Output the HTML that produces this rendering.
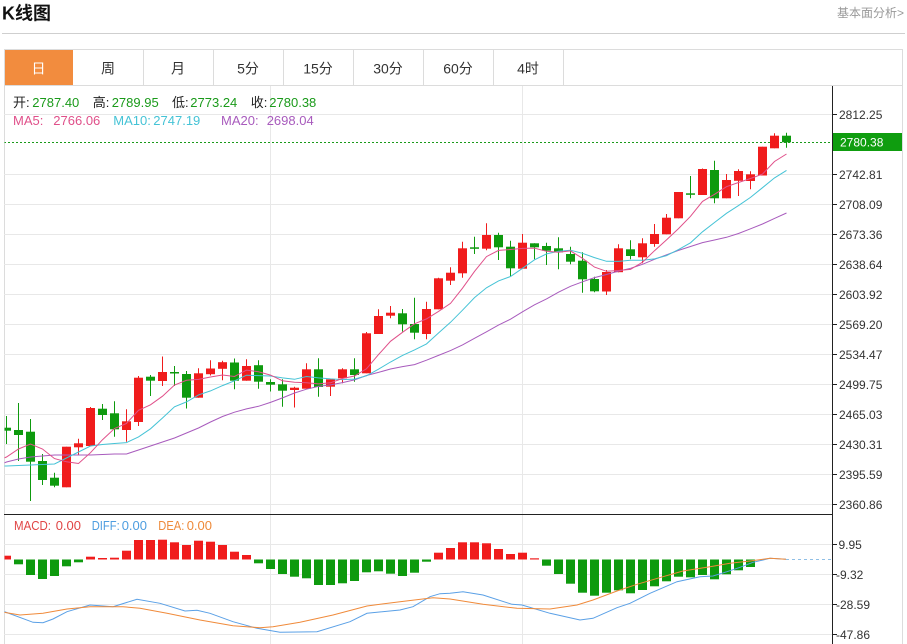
<!DOCTYPE html>
<html><head><meta charset="utf-8"><style>
html,body{margin:0;padding:0;background:#fff;}
svg{display:block;font-family:"Liberation Sans","Noto Sans CJK SC",sans-serif;}
</style></head><body>
<svg width="907" height="644" viewBox="0 0 907 644" xmlns="http://www.w3.org/2000/svg">
<defs>
<clipPath id="cm"><rect x="4.5" y="86" width="827.5" height="428"/></clipPath>
<clipPath id="cd"><rect x="4.5" y="515" width="827.5" height="129"/></clipPath>
</defs>
<rect width="907" height="644" fill="#fff"/>
<!-- header -->
<text x="2" y="19.5" font-size="18" font-weight="bold" fill="#111">K线图</text>
<text x="904" y="17" font-size="12" fill="#999" text-anchor="end">基本面分析&gt;</text>
<line x1="2" y1="33.5" x2="905" y2="33.5" stroke="#cfcfcf"/>
<!-- tabs -->
<rect x="4" y="49.5" width="69" height="35.5" fill="#f28c3e"/>
<line x1="4" y1="49.5" x2="903" y2="49.5" stroke="#dcdcdc"/>
<line x1="4" y1="85.5" x2="903" y2="85.5" stroke="#dcdcdc"/>
<g stroke="#dcdcdc">
<line x1="143.5" y1="50" x2="143.5" y2="85"/><line x1="213.5" y1="50" x2="213.5" y2="85"/>
<line x1="283.5" y1="50" x2="283.5" y2="85"/><line x1="353.5" y1="50" x2="353.5" y2="85"/>
<line x1="423.5" y1="50" x2="423.5" y2="85"/><line x1="493.5" y1="50" x2="493.5" y2="85"/>
<line x1="563.5" y1="50" x2="563.5" y2="85"/>
<line x1="4.5" y1="49.5" x2="4.5" y2="644"/><line x1="902.5" y1="49.5" x2="902.5" y2="644"/>
</g>
<g font-size="14" text-anchor="middle" fill="#333">
<text x="38.5" y="73.5" fill="#fff">日</text>
<text x="108" y="73.5">周</text><text x="178" y="73.5">月</text><text x="248" y="73.5">5分</text>
<text x="318" y="73.5">15分</text><text x="388" y="73.5">30分</text><text x="458" y="73.5">60分</text><text x="528" y="73.5">4时</text>
</g>
<!-- grid -->
<g stroke="#e8e8e8">
<line x1="270.5" y1="86" x2="270.5" y2="644"/><line x1="522.5" y1="86" x2="522.5" y2="644"/>
<line x1="4" y1="114.5" x2="832" y2="114.5"/><line x1="4" y1="174.5" x2="832" y2="174.5"/>
<line x1="4" y1="204.5" x2="832" y2="204.5"/><line x1="4" y1="234.5" x2="832" y2="234.5"/>
<line x1="4" y1="264.5" x2="832" y2="264.5"/><line x1="4" y1="294.5" x2="832" y2="294.5"/>
<line x1="4" y1="324.5" x2="832" y2="324.5"/><line x1="4" y1="354.5" x2="832" y2="354.5"/>
<line x1="4" y1="384.5" x2="832" y2="384.5"/><line x1="4" y1="414.5" x2="832" y2="414.5"/>
<line x1="4" y1="444.5" x2="832" y2="444.5"/><line x1="4" y1="474.5" x2="832" y2="474.5"/>
<line x1="4" y1="504.5" x2="832" y2="504.5"/>
<line x1="4" y1="544.5" x2="832" y2="544.5"/><line x1="4" y1="574.5" x2="832" y2="574.5"/>
<line x1="4" y1="604.5" x2="832" y2="604.5"/><line x1="4" y1="634.5" x2="832" y2="634.5"/>
</g>
<!-- legend -->
<g font-size="13">
<text x="13" y="107" fill="#222">开:</text><text x="32.3" y="107" fill="#1a9a1a">2787.40</text>
<text x="92.7" y="107" fill="#222">高:</text><text x="111.7" y="107" fill="#1a9a1a">2789.95</text>
<text x="172" y="107" fill="#222">低:</text><text x="190.3" y="107" fill="#1a9a1a">2773.24</text>
<text x="250.7" y="107" fill="#222">收:</text><text x="269.3" y="107" fill="#1a9a1a">2780.38</text>
<text x="13" y="125" fill="#e0508a">MA5:</text><text x="53.3" y="125" fill="#e0508a">2766.06</text>
<text x="113.3" y="125" fill="#45c3d6">MA10:</text><text x="153.3" y="125" fill="#45c3d6">2747.19</text>
<text x="221" y="125" fill="#a85bbd">MA20:</text><text x="266.7" y="125" fill="#a85bbd">2698.04</text>
<text x="14" y="530" fill="#e04545" textLength="37" lengthAdjust="spacingAndGlyphs">MACD:</text><text x="55.7" y="530" fill="#e04545">0.00</text>
<text x="91.7" y="530" fill="#4d9de0" textLength="28" lengthAdjust="spacingAndGlyphs">DIFF:</text><text x="121.7" y="530" fill="#4d9de0">0.00</text>
<text x="158.3" y="530" fill="#ee8a3a" textLength="26" lengthAdjust="spacingAndGlyphs">DEA:</text><text x="186.7" y="530" fill="#ee8a3a">0.00</text>
</g>
<!-- candles -->
<g clip-path="url(#cm)">
<line x1="4" y1="142.5" x2="832" y2="142.5" stroke="#1a9a1a" stroke-dasharray="2,2"/>
<path fill="none" stroke="#0e9a0e" stroke-width="1" d="M6.5 416V444M18.5 403V461M30.5 419V501M42.5 454V485M54.5 472.7V487.3M102.5 404V420M114.5 401.3V436.7M150.5 375V396M174.5 366V386M186.5 371V408.5M234.5 358.5V389.3M258.5 360.3V388.7M270.5 379.3V391.5M282.5 379.3V406.7M318.5 358.3V396.7M354.5 358.3V381.7M402.5 309V331.5M414.5 297.7V339.3M474.5 236.7V254M498.5 232.7V260M510.5 240.7V276M534.5 243.3V259.3M546.5 242.7V265M558.5 237.3V269.3M570.5 246.7V264.3M582.5 252.3V292.7M594.5 276.7V292.3M630.5 240.3V259.3M690.5 176V198.3M714.5 160.7V203.3M786.5 132.7V147.7"/>
<g fill="#0e9a0e">
<rect x="2" y="427.7" width="9" height="3"/><rect x="14" y="430" width="9" height="5"/><rect x="26" y="431.7" width="9" height="30"/>
<rect x="38" y="461" width="9" height="19"/><rect x="50" y="477.7" width="9" height="8"/><rect x="98" y="408.7" width="9" height="6.3"/>
<rect x="110" y="413.3" width="9" height="16"/><rect x="146" y="376.7" width="9" height="4"/><rect x="170" y="372" width="9" height="1.5"/>
<rect x="182" y="374" width="9" height="23.7"/><rect x="230" y="362.5" width="9" height="18.2"/><rect x="254" y="365.2" width="9" height="16.5"/>
<rect x="266" y="382" width="9" height="2.7"/><rect x="278" y="384.3" width="9" height="6.4"/><rect x="314" y="369.3" width="9" height="17.7"/>
<rect x="350" y="369.3" width="9" height="5.7"/><rect x="398" y="313.3" width="9" height="11"/><rect x="410" y="324" width="9" height="8.7"/>
<rect x="470" y="247.3" width="9" height="1.5"/><rect x="494" y="235" width="9" height="12.3"/><rect x="506" y="246.7" width="9" height="21.6"/>
<rect x="530" y="243.3" width="9" height="4"/><rect x="542" y="246" width="9" height="4.7"/><rect x="554" y="248.3" width="9" height="4"/>
<rect x="566" y="254" width="9" height="7.7"/><rect x="578" y="260.7" width="9" height="18.6"/><rect x="590" y="279" width="9" height="12.3"/>
<rect x="626" y="249.3" width="9" height="6.7"/><rect x="686" y="193.3" width="9" height="1.5"/><rect x="710" y="170" width="9" height="28.3"/>
<rect x="782" y="135.7" width="9" height="6.6"/>
</g>
<path fill="none" stroke="#f01c1c" stroke-width="1" d="M66.5 446.7V487.3M78.5 438.7V455M90.5 407V446M126.5 409.3V441.7M138.5 376V426M162.5 356.5V386M198.5 368.3V397.7M210.5 360.3V375.5M222.5 360.8V380.3M246.5 359.2V380.7M294.5 386.7V407.5M306.5 363.3V388.7M330.5 379.3V396M342.5 368.3V383.3M366.5 332V373.3M378.5 309.3V334M390.5 306V318.3M426.5 301.7V339.3M438.5 277.7V309.3M450.5 267.3V285M462.5 241.7V277.7M486.5 223.3V250.3M522.5 234V268.7M606.5 270V295M618.5 244.2V272.2M642.5 238.3V263.3M654.5 224V246.7M666.5 214V234.3M678.5 192V218.3M702.5 168.5V195M726.5 174V198.3M738.5 169.2V196M750.5 171.3V189.3M762.5 146.7V175.5M774.5 133.3V148.3"/>
<g fill="#f01c1c">
<rect x="62" y="446.7" width="9" height="40.6"/><rect x="74" y="443.3" width="9" height="4"/><rect x="86" y="408" width="9" height="38"/>
<rect x="122" y="421.3" width="9" height="8.7"/><rect x="134" y="377.7" width="9" height="44.3"/><rect x="158" y="372" width="9" height="9"/>
<rect x="194" y="373.3" width="9" height="24.4"/><rect x="206" y="368.5" width="9" height="5.7"/><rect x="218" y="362.2" width="9" height="6.6"/>
<rect x="242" y="366" width="9" height="14.7"/><rect x="290" y="387.7" width="9" height="2.3"/><rect x="302" y="369.3" width="9" height="19.4"/>
<rect x="326" y="379.3" width="9" height="7.4"/><rect x="338" y="369.3" width="9" height="9"/><rect x="362" y="333.3" width="9" height="40"/>
<rect x="374" y="316" width="9" height="18"/><rect x="386" y="312.7" width="9" height="3"/><rect x="422" y="309" width="9" height="25"/>
<rect x="434" y="278.3" width="9" height="31"/><rect x="446" y="272.7" width="9" height="8"/><rect x="458" y="248.3" width="9" height="25"/>
<rect x="482" y="235" width="9" height="13.7"/><rect x="518" y="242.7" width="9" height="26"/><rect x="602" y="272" width="9" height="19.5"/>
<rect x="614" y="248.3" width="9" height="23.9"/><rect x="638" y="243.3" width="9" height="14"/><rect x="650" y="234" width="9" height="10"/>
<rect x="662" y="217.7" width="9" height="16.6"/><rect x="674" y="192" width="9" height="26.3"/><rect x="698" y="169" width="9" height="26"/>
<rect x="722" y="180" width="9" height="18.3"/><rect x="734" y="171" width="9" height="9.8"/><rect x="746" y="174.3" width="9" height="6.7"/>
<rect x="758" y="146.7" width="9" height="28.8"/><rect x="770" y="135.7" width="9" height="12.6"/>
</g>
<!-- MA lines -->
<polyline fill="none" stroke="#a85bbd" stroke-width="1" points="4,463 6.5,462 18.5,459 30.5,457 42.5,456 54.5,455 66.5,455 78.5,455 90.5,455 102.5,454.5 114.5,454 126.5,454 138.5,450 150.5,446 162.5,442 174.5,438 186.5,433 198.5,428 210.5,422 222.5,416.5 234.5,412.2 246.5,408.9 258.5,406.3 270.5,402.4 282.5,397.9 294.5,393 306.5,389.2 318.5,386.4 330.5,384.9 342.5,382.6 354.5,379.9 366.5,375.5 378.5,372.4 390.5,369 402.5,366.6 414.5,364.6 426.5,360.2 438.5,355.4 450.5,350.6 462.5,344.9 474.5,338.3 486.5,331.8 498.5,325.1 510.5,319.2 522.5,311.8 534.5,304.8 546.5,298.9 558.5,292.2 570.5,286.3 582.5,281.8 594.5,277.6 606.5,274.5 618.5,271.1 630.5,268.3 642.5,264.3 654.5,259.3 666.5,254.8 678.5,250.4 690.5,246.5 702.5,242.6 714.5,240 726.5,237.3 738.5,233.5 750.5,228.8 762.5,224 774.5,218.4 786.5,213"/>
<polyline fill="none" stroke="#45c3d6" stroke-width="1" points="4,466 6.5,466 18.5,465.5 30.5,465 42.5,464.5 54.5,464 66.5,458 78.5,452 90.5,446 102.5,444.5 114.5,443.5 126.5,442.6 138.5,436.9 150.5,428.8 162.5,418 174.5,406.8 186.5,401.9 198.5,394.9 210.5,390.9 222.5,385.6 234.5,380.8 246.5,375.2 258.5,375.6 270.5,376 282.5,377.9 294.5,379.3 306.5,376.5 318.5,377.9 330.5,378.9 342.5,379.6 354.5,379.1 366.5,375.8 378.5,369.2 390.5,362 402.5,355.4 414.5,349.9 426.5,343.9 438.5,333 450.5,322.3 462.5,310.2 474.5,297.6 486.5,287.8 498.5,280.9 510.5,276.5 522.5,268.3 534.5,259.8 546.5,253.9 558.5,251.3 570.5,250.2 582.5,253.3 594.5,257.6 606.5,261.3 618.5,261.4 630.5,260.2 642.5,260.2 654.5,258.9 666.5,255.6 678.5,249.6 690.5,242.8 702.5,231.8 714.5,222.5 726.5,213.3 738.5,205.6 750.5,197.4 762.5,187.7 774.5,177.9 786.5,170.4"/>
<polyline fill="none" stroke="#e0508a" stroke-width="1" points="4,458 6.5,457 18.5,449 30.5,444 42.5,449 54.5,458.6 66.5,461.8 78.5,463.5 90.5,452.7 102.5,439.7 114.5,428.5 126.5,423.4 138.5,410.3 150.5,404.8 162.5,396.2 174.5,385 186.5,380.3 198.5,379.4 210.5,377 222.5,375 234.5,376.5 246.5,370.1 258.5,371.8 270.5,375.1 282.5,380.8 294.5,382.2 306.5,382.8 318.5,383.9 330.5,382.8 342.5,378.5 354.5,376 366.5,368.8 378.5,354.6 390.5,341.3 402.5,332.3 414.5,323.8 426.5,318.9 438.5,311.4 450.5,303.4 462.5,288.2 474.5,271.4 486.5,256.6 498.5,250.4 510.5,249.5 522.5,248.4 534.5,248.1 546.5,251.3 558.5,252.3 570.5,250.9 582.5,258.3 594.5,267.1 606.5,271.3 618.5,270.5 630.5,269.4 642.5,262.2 654.5,250.7 666.5,239.9 678.5,228.6 690.5,216.3 702.5,201.4 714.5,194.3 726.5,186.7 738.5,182.5 750.5,178.5 762.5,174.1 774.5,161.5 786.5,154"/>
</g>
<!-- MACD -->
<g clip-path="url(#cd)">
<line x1="786" y1="559.5" x2="832" y2="559.5" stroke="#8fbfe6" stroke-dasharray="3,3"/>
<g fill="#f01c1c">
<rect x="2" y="555.7" width="9" height="3.8"/><rect x="86" y="556.7" width="9" height="2.8"/><rect x="98" y="558" width="9" height="1.5"/>
<rect x="110" y="557.7" width="9" height="1.8"/><rect x="122" y="550.7" width="9" height="8.8"/><rect x="134" y="540" width="9" height="19.5"/>
<rect x="146" y="540" width="9" height="19.5"/><rect x="158" y="539.7" width="9" height="19.8"/><rect x="170" y="542.3" width="9" height="17.2"/>
<rect x="182" y="545" width="9" height="14.5"/><rect x="194" y="540.7" width="9" height="18.8"/><rect x="206" y="541.7" width="9" height="17.8"/>
<rect x="218" y="545" width="9" height="14.5"/><rect x="230" y="551.7" width="9" height="7.8"/><rect x="242" y="555" width="9" height="4.5"/>
<rect x="434" y="552.7" width="9" height="6.8"/><rect x="446" y="548" width="9" height="11.5"/><rect x="458" y="542.3" width="9" height="17.2"/>
<rect x="470" y="542.3" width="9" height="17.2"/><rect x="482" y="543.3" width="9" height="16.2"/><rect x="494" y="549" width="9" height="10.5"/>
<rect x="506" y="554" width="9" height="5.5"/><rect x="518" y="552.7" width="9" height="6.8"/><rect x="530" y="558.3" width="9" height="1.2"/>
</g>
<g fill="#0e9a0e">
<rect x="14" y="559.5" width="9" height="4.8"/><rect x="26" y="559.5" width="9" height="15.5"/><rect x="38" y="559.5" width="9" height="19.5"/>
<rect x="50" y="559.5" width="9" height="16.5"/><rect x="62" y="559.5" width="9" height="6.8"/><rect x="74" y="559.5" width="9" height="2.8"/>
<rect x="254" y="559.5" width="9" height="3.8"/><rect x="266" y="559.5" width="9" height="9.5"/><rect x="278" y="559.5" width="9" height="14.5"/>
<rect x="290" y="559.5" width="9" height="17.2"/><rect x="302" y="559.5" width="9" height="18.8"/><rect x="314" y="559.5" width="9" height="25.5"/>
<rect x="326" y="559.5" width="9" height="25.5"/><rect x="338" y="559.5" width="9" height="23.8"/><rect x="350" y="559.5" width="9" height="21.5"/>
<rect x="362" y="559.5" width="9" height="12.8"/><rect x="374" y="559.5" width="9" height="11.8"/><rect x="386" y="559.5" width="9" height="14.2"/>
<rect x="398" y="559.5" width="9" height="16.5"/><rect x="410" y="559.5" width="9" height="13.2"/><rect x="422" y="559.5" width="9" height="2.2"/>
<rect x="542" y="559.5" width="9" height="6.2"/><rect x="554" y="559.5" width="9" height="14.5"/><rect x="566" y="559.5" width="9" height="24.2"/>
<rect x="578" y="559.5" width="9" height="33.2"/><rect x="590" y="559.5" width="9" height="36.2"/><rect x="602" y="559.5" width="9" height="33.2"/>
<rect x="614" y="559.5" width="9" height="30.8"/><rect x="626" y="559.5" width="9" height="33.8"/><rect x="638" y="559.5" width="9" height="30.5"/>
<rect x="650" y="559.5" width="9" height="26.8"/><rect x="662" y="559.5" width="9" height="21.8"/><rect x="674" y="559.5" width="9" height="17.2"/>
<rect x="686" y="559.5" width="9" height="17.8"/><rect x="698" y="559.5" width="9" height="15.5"/><rect x="710" y="559.5" width="9" height="19.8"/>
<rect x="722" y="559.5" width="9" height="14.8"/><rect x="734" y="559.5" width="9" height="10.8"/><rect x="746" y="559.5" width="9" height="7.5"/>
</g>
<polyline fill="none" stroke="#5aa0e6" stroke-width="1" points="4,611.5 33,622.3 43,622.7 53,619 67,611.7 90,605 113,606.7 137,599.3 160,603.3 185,611 197,610.3 210,613.3 233,621.7 257,628.3 280,632.3 317,631.7 350,621.7 367,613.3 400,610 413,606.7 430,596.7 440,593.7 450,593.3 463,591.7 483,595 512,604.3 522,605 550,613.3 580,620 593,618.3 617,607.7 630,603.3 650,593.3 677,581.7 700,576.7 713,576 727,571.7 740,567.3 753,562.3 763,560 770,558.3 786,559.3"/>
<polyline fill="none" stroke="#f08a3a" stroke-width="1" points="4,612.3 20,615 43,613.3 67,609 90,606.7 123,606.7 140,608.3 167,613.3 200,620 233,625.7 260,627.7 273,626.7 300,622.3 333,615 367,606 400,601.7 433,597.7 450,599 483,604.3 517,608.3 550,609 577,605 593,600 617,591 637,584.3 663,576.7 683,571 710,566.7 730,563.3 750,561 770,558.3 786,559.3"/>
</g>
<!-- axes -->
<line x1="832.5" y1="86" x2="832.5" y2="644" stroke="#222"/>
<line x1="4" y1="514.5" x2="832" y2="514.5" stroke="#222"/>
<path stroke="#222" d="M832 114.5h5M832 174.5h5M832 204.5h5M832 234.5h5M832 264.5h5M832 294.5h5M832 324.5h5M832 354.5h5M832 384.5h5M832 414.5h5M832 444.5h5M832 474.5h5M832 504.5h5M832 544.5h5M832 574.5h5M832 604.5h5M832 634.5h5"/>
<g font-size="12" fill="#333">
<text x="839" y="118.8">2812.25</text><text x="839" y="178.8">2742.81</text><text x="839" y="208.8">2708.09</text>
<text x="839" y="238.8">2673.36</text><text x="839" y="268.8">2638.64</text><text x="839" y="298.8">2603.92</text>
<text x="839" y="328.8">2569.20</text><text x="839" y="358.8">2534.47</text><text x="839" y="388.8">2499.75</text>
<text x="839" y="418.8">2465.03</text><text x="839" y="448.8">2430.31</text><text x="839" y="478.8">2395.59</text>
<text x="839" y="508.8">2360.86</text>
<text x="838.5" y="548.8">9.95</text><text x="836" y="578.8">-9.32</text><text x="836" y="608.8">-28.59</text><text x="836" y="638.8">-47.86</text>
</g>
<rect x="833" y="133" width="69" height="18" fill="#0f9d0f"/>
<text x="840" y="146.5" font-size="12" fill="#fff">2780.38</text>
</svg>
</body></html>
